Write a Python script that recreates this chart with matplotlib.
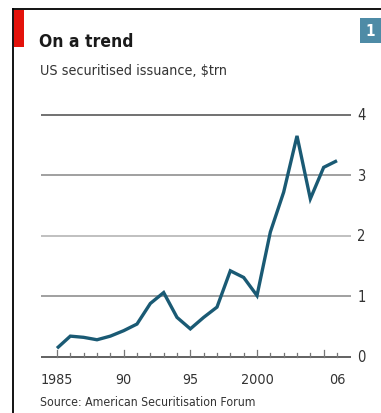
import matplotlib
matplotlib.use("Agg")
from matplotlib import pyplot as plt
from matplotlib.patches import Rectangle

plt.rcParams["font.family"] = ["DejaVu Sans"]
plt.rcParams["font.stretch"] = "condensed"

years = list(range(1985, 2007))
issuance = [0.14, 0.34, 0.32, 0.28, 0.34, 0.43, 0.54, 0.88, 1.06, 0.65, 0.46,
            0.65, 0.82, 1.42, 1.31, 1.01, 2.06, 2.72, 3.65, 2.61, 3.13, 3.24]
y_ticks = [0, 1, 2, 3, 4]
x_labels = {1985: "1985", 1990: "90", 1995: "95", 2000: "2000", 2006: "06"}

W, H = 381, 414
fig = plt.figure(figsize=(W / 100, H / 100), dpi=100)

# frame, red tab, chart number
fig.add_artist(plt.Line2D([13 / W, 13 / W], [0, 1 - 10 / H], color="black", lw=1.3))
fig.add_artist(plt.Line2D([13 / W, 1], [1 - 10 / H, 1 - 10 / H], color="black", lw=1.3))
fig.add_artist(Rectangle((14 / W, 1 - 48 / H), 10 / W, 37 / H, color="#e3120b", lw=0))
fig.add_artist(Rectangle((360 / W, 1 - 44 / H), 21 / W, 25 / H, color="#4e8ba6", lw=0))
fig.text(370.5 / W, 1 - 31.5 / H, "1", color="white", fontsize=11, fontweight="bold",
         ha="center", va="center")

fig.text(39 / W, 1 - 42 / H, "On a trend", fontsize=12.5, fontweight="bold",
         color="#1a1a1a", va="center")
fig.text(40 / W, 1 - 71 / H, "US securitised issuance, $trn", fontsize=10.3,
         color="#333333", va="center")
fig.text(40 / W, 1 - 403 / H, "Source: American Securitisation Forum", fontsize=8.8,
         color="#333333", va="center")

ax = fig.add_axes([41 / W, 1 - 360 / H, 310 / W, 260 / H])
ax.set_xlim(1983.8, 2007.05)
ax.set_ylim(-0.038, 4.26)

grid_colors = ["#555555", "#999999", "#bbbbbb", "#999999", "#666666"]
for v, c in zip(y_ticks, grid_colors):
    ax.axhline(v, color=c, lw=1.3, zorder=1)
    ax.text(1.02, v, str(v), transform=ax.get_yaxis_transform(), fontsize=10.5,
            color="#333333", va="center", ha="left")

for yr in years:
    h = 0.11 if yr % 5 == 0 else 0.06
    ax.plot([yr, yr], [0, h], color="#777777", lw=0.9, zorder=1)

ax.plot(years, issuance, color="#1a5a74", lw=2.4, solid_joinstyle="miter",
        solid_capstyle="butt", zorder=3)

for yr, lab in x_labels.items():
    ax.text(yr, -0.37, lab, fontsize=10.3, color="#333333", ha="center", va="center")

ax.axis("off")
fig.savefig("out.png", dpi=100)
